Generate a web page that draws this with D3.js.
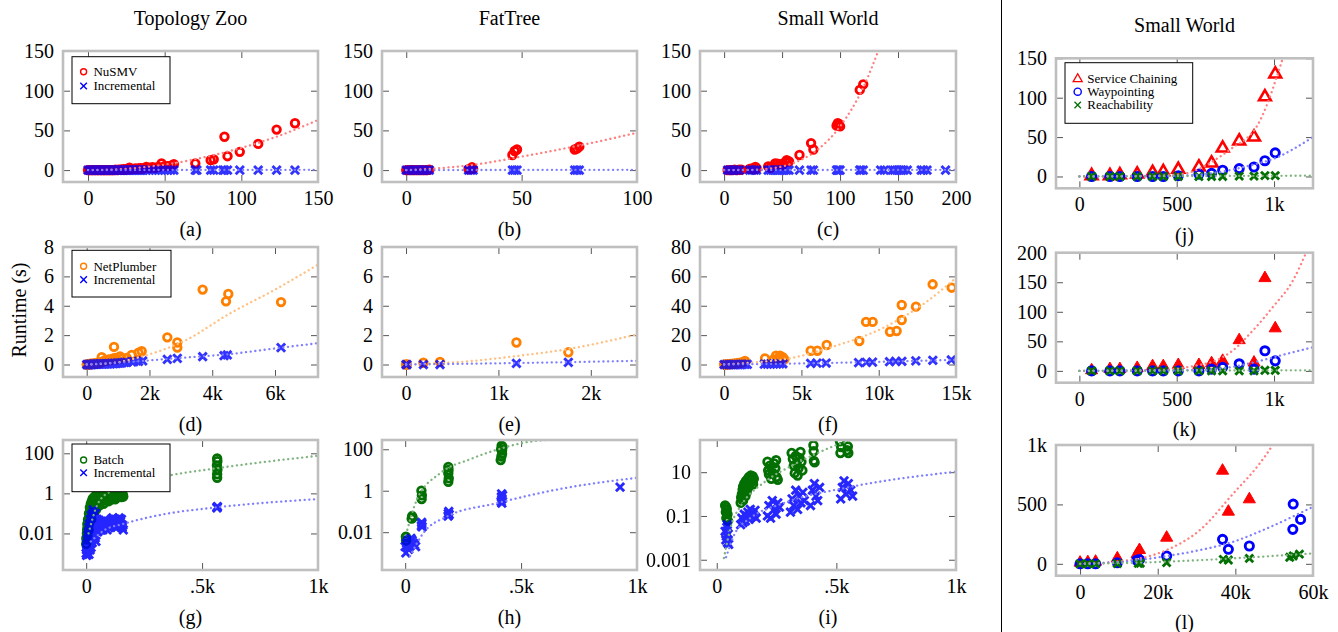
<!DOCTYPE html>
<html><head><meta charset="utf-8">
<script src="https://cdnjs.cloudflare.com/ajax/libs/d3/7.8.5/d3.min.js"></script>
<style>
body{margin:0;background:#fff;}
</style></head><body><div id="chart"></div>
<script>
// ---------- data ----------
// (a) Topology Zoo, NuSMV vs Incremental
const zooNusmv = [[0,0],[1,0],[2,0],[3,0],[4,0],[5,0],[6,0],[7,0],[8,0],[9,0],[10,0],[11,0],[12,0],[13,0],[14,0],[15,0],[16,0],[17,0],[18,0.5],[19,0],[20,0.5],[21,0.5],[22,0.5],[23,1],[24,0.5],[25,1],[26,1],[27,3],[28,1],[29,1.5],[30,1.5],[31,2],[32,1.5],[33,2],[34,2.5],[35,2],[36,2],[38,4],[40,3],[42,3.5],[44,3],[46,4],[48,8.5],[50,5],[52,5],[54,5.5],[56,7.5],[70,8.5],[80,12.5],[82,13.5],[89,42],[91,17.5],[99,23],[111,33],[123,51],[135,59]];
const zooIncrA = [[0,0],[1,0],[2,0],[3,0],[4,0],[5,0],[6,0],[7,0],[8,0],[9,0],[10,0],[11,0],[12,0],[13,0],[14,0],[15,0],[16,0],[17,0],[18,0],[19,0],[20,0],[21,0],[22,0],[23,0],[24,0],[25,0],[26,0],[27,0],[28,0],[29,0],[30,0],[31,0],[32,0],[33,0],[34,0],[35,0],[36,0],[38,0],[40,0],[42,0],[44,0],[46,0],[48,0],[50,0],[52,0],[54,0],[56,0],[70,0],[71,0],[80,0],[82,0],[88,0],[89,0],[91,0],[99,0],[111,0],[123,0],[135,0]];
const trendZooNusmv = [[0,0],[20,1],[40,4.5],[60,10],[80,18],[100,28],[120,40],[150,63]];
const trendZooIncrA = [[0,0],[150,0.3]];

// (b) FatTree
const fatNusmv = [[0,0],[1,0],[2,0],[3,0],[4,0],[5,0],[6,0],[7,0],[8,0],[9,0],[10,0.5],[27,1],[28,2],[28.5,3.5],[29,1.5],[46,19],[47,24],[48,26],[73,26],[74,27],[75,29.5]];
const fatIncrB = [[0,0],[1,0],[2,0],[3,0],[4,0],[5,0],[6,0],[7,0],[8,0],[9,0],[10,0],[27,0],[28,0],[29,0],[46,0],[47,0],[48,0],[73,0],[74,0],[75,0]];
const trendFatNusmv = [[0,0],[10,1.5],[30,7],[50,17],[75,31],[100,47]];
const trendFatIncrB = [[0,0],[100,0.3]];

// (c) Small World
const swNusmv = [[3,0],[5,0],[7,0],[9,0.5],[11,0],[13,0.5],[15,0.5],[22,1.5],[24,2],[26,1],[27,4],[28,2],[38,4.5],[40,3],[44,8.5],[46,8],[48,7],[50,6],[51,8.5],[53,10],[54,12.5],[56,11],[65,19],[75,34],[77,26],[97,56],[98,59],[99,58],[100,55],[117,101],[120,108]];
const swIncrC = [[3,0],[5,0],[7,0],[9,0],[11,0],[13,0],[22,0],[24,0],[26,0],[28,0],[38,0],[40,0],[42,0],[44,0],[46,0],[48,0],[50,0],[52,0],[54,0],[56,0],[65,0],[75,0],[77,0],[97,0],[98,0],[99,0],[100,0],[117,0],[118,0],[120,0],[135,0],[138,0],[145,0],[147,0],[149,0],[151,0],[153,0],[155,0],[158,0],[170,0],[172,0],[175,0],[191,0]];
const trendSwNusmv = [[0,0],[20,0.2],[40,2],[60,9],[80,25],[100,55],[120,104],[135,158]];
const trendSwIncrC = [[0,0],[200,0.3]];

// (d) Topology Zoo, NetPlumber vs Incremental
const zooNetPlumber = [[0,0],[20,0],[40,0.02],[60,0.01],[80,0.03],[100,0.02],[130,0.05],[160,0.03],[200,0.06],[240,0.08],[280,0.05],[320,0.1],[360,0.12],[400,0.08],[450,0.15],[478,0.5],[520,0.2],[580,0.3],[640,0.25],[700,0.35],[760,0.3],[820,0.4],[870,1.2],[900,0.45],[960,0.35],[1061,0.55],[1120,0.4],[1275,0.45],[1434,0.65],[1650,0.8],[1753,0.9],[2569,1.85],[2888,1.5],[2888,1.15],[3695,5.1],[4439,4.3],[4512,4.8],[6192,4.25]];
const zooIncrD = [[0,0],[30,0],[60,0],[90,0],[120,0.01],[150,0],[180,0.01],[210,0.02],[240,0.01],[270,0.02],[300,0.02],[350,0.03],[400,0.02],[450,0.04],[500,0.03],[550,0.05],[600,0.04],[650,0.05],[700,0.06],[750,0.05],[800,0.07],[850,0.06],[900,0.08],[950,0.07],[1000,0.09],[1061,0.1],[1120,0.11],[1200,0.15],[1275,0.14],[1434,0.18],[1500,0.2],[1650,0.21],[1785,0.24],[2569,0.35],[2888,0.42],[3695,0.53],[4376,0.6],[4481,0.65],[6192,1.15]];
const trendZooNp = [[0,0],[1000,0.15],[1600,0.45],[3200,1.7],[4500,3.4],[6000,5.1],[7370,6.8]];
const trendZooIncrD = [[0,0],[1500,0.2],[3000,0.45],[4500,0.7],[6200,1.15],[7370,1.45]];

// (e) FatTree
const fatNetPlumber = [[0,0],[10,0],[188,0.12],[368,0.18],[1195,1.5],[1757,0.83]];
const fatIncrE = [[0,0],[10,0],[188,0],[368,0],[1195,0.08],[1757,0.15]];
const trendFatNp = [[0,0],[600,0.18],[1200,0.58],[1750,1.05],[2500,2.05]];
const trendFatIncrE = [[0,0],[1200,0.1],[2500,0.25]];

// (f) Small World
const swNetPlumber = [[0,0],[100,0],[200,0.1],[300,0.2],[400,0.3],[500,0.4],[600,0.5],[700,0.6],[800,0.8],[900,1],[1000,1],[1100,1.3],[1200,1.5],[1350,2.5],[2646,4.2],[3200,3.5],[3357,6],[3500,4.2],[3616,6],[3790,5],[3900,3.5],[5600,9.4],[6030,9.4],[6636,13.3],[8745,16],[9180,29],[9610,29],[10730,22.3],[11160,22.8],[11490,40.5],[11490,30.3],[12410,39.4],[13490,54.6],[14720,52.3]];
const swIncrF = [[0,0],[150,0],[300,0],[450,0],[600,0],[750,0],[900,0],[1050,0],[1200,0.1],[1350,0.1],[1500,0.1],[2600,0.2],[2800,0.3],[3000,0.3],[3200,0.4],[3400,0.4],[3600,0.5],[3800,0.5],[5600,0.8],[6000,0.9],[6600,1.0],[8700,1.3],[9200,1.5],[9600,1.6],[10700,1.9],[11100,2.1],[11500,2.2],[12400,2.5],[13500,2.9],[14700,3.1]];
const trendSwNp = [[0,0],[1700,1.2],[4300,4.3],[7000,12],[10300,25],[13000,42],[15000,59]];
const trendSwIncrF = [[0,0],[5000,0.7],[10000,1.8],[15000,3.2]];

// (g) Topology Zoo, Batch vs Incremental (log y)
const zooBatch = [[0,0.003],[1,0.006],[2,0.005],[3,0.01],[4,0.015],[5,0.008],[5,0.03],[6,0.02],[7,0.012],[8,0.015],[8,0.05],[9,0.025],[10,0.04],[11,0.015],[12,0.03],[12,0.1],[14,0.06],[15,0.1],[16,0.2],[18,0.08],[20,0.15],[20,0.3],[22,0.05],[24,0.4],[25,0.25],[28,0.12],[28,0.55],[30,0.4],[32,0.2],[33,0.35],[35,0.5],[37,0.7],[38,0.3],[40,0.6],[42,0.15],[43,0.45],[45,0.7],[47,0.9],[48,0.35],[50,0.55],[52,0.4],[55,0.8],[57,0.65],[58,0.25],[60,0.6],[62,0.9],[65,0.45],[67,0.6],[70,0.75],[72,0.45],[75,0.3],[77,0.7],[80,0.9],[82,0.6],[85,0.5],[87,0.85],[90,0.7],[92,0.55],[95,0.4],[97,0.7],[100,0.85],[102,0.45],[105,0.6],[108,0.75],[110,1.2],[112,0.55],[115,0.7],[118,0.65],[120,0.9],[122,0.8],[125,0.5],[128,0.65],[130,0.8],[132,0.95],[135,1.0],[138,0.8],[140,0.65],[142,0.7],[145,0.9],[148,0.85],[150,0.75],[152,0.65],[155,0.8],[158,0.85],[160,0.7],[565,6],[565,9],[566,15],[564,25],[566,40],[565,55]];
const zooIncrG = [[0,0.001],[1,0.002],[2,0.0015],[2,0.0008],[3,0.003],[4,0.001],[4,0.0025],[5,0.005],[6,0.002],[6,0.0012],[7,0.008],[8,0.003],[8,0.0018],[9,0.012],[10,0.0015],[10,0.003],[11,0.02],[12,0.004],[12,0.0009],[13,0.006],[14,0.03],[14,0.0025],[15,0.002],[16,0.01],[17,0.0015],[18,0.05],[19,0.003],[20,0.015],[21,0.002],[22,0.08],[23,0.012],[24,0.005],[25,0.025],[26,0.0035],[27,0.06],[28,0.1],[29,0.008],[30,0.15],[31,0.1],[32,0.04],[33,0.02],[34,0.008],[35,0.012],[36,0.06],[37,0.03],[38,0.02],[39,0.006],[40,0.1],[41,0.05],[42,0.004],[44,0.015],[45,0.03],[47,0.02],[48,0.05],[50,0.012],[52,0.03],[55,0.02],[58,0.015],[60,0.035],[62,0.02],[65,0.015],[68,0.04],[70,0.025],[72,0.015],[75,0.04],[78,0.03],[80,0.02],[83,0.045],[85,0.03],[88,0.025],[90,0.015],[93,0.04],[95,0.025],[98,0.02],[100,0.04],[105,0.025],[108,0.05],[110,0.03],[113,0.035],[115,0.06],[118,0.025],[120,0.05],[122,0.04],[125,0.02],[128,0.05],[130,0.035],[133,0.02],[137,0.04],[140,0.025],[142,0.06],[145,0.05],[148,0.04],[150,0.03],[152,0.05],[155,0.02],[158,0.025],[160,0.015],[565,0.2],[566,0.22],[564,0.19]];
const trendZooBatch = [[10,0.01],[50,0.3],[103,1.2],[333,6.8],[565,18],[1000,75]];
const trendZooIncrG = [[20,0.004],[80,0.015],[160,0.03],[333,0.09],[563,0.2],[1000,0.52]];

// (h) FatTree
const fatBatch = [[3,0.006],[4,0.004],[28,0.045],[30,0.06],[32,0.05],[70,1.0],[71,0.4],[72,0.6],[186,14],[186,7],[187,10],[186,2.7],[188,4],[412,30],[414,100],[415,45],[416,150],[418,90],[420,130],[418,60]];
const fatIncrH = [[0,0.002],[3,0.001],[6,0.003],[9,0.002],[12,0.004],[15,0.0015],[20,0.003],[25,0.005],[30,0.004],[35,0.003],[40,0.0025],[45,0.002],[70,0.02],[71,0.03],[72,0.025],[73,0.018],[185,0.06],[186,0.08],[188,0.1],[190,0.07],[414,0.3],[415,0.5],[416,0.7],[418,0.4],[420,0.6],[417,0.25],[927,1.5]];
const trendFatBatch = [[9,0.013],[50,0.36],[150,6.9],[280,33],[416,111],[538,232],[720,320]];
const trendFatIncrH = [[21,0.0007],[78,0.009],[179,0.056],[395,0.25],[682,1.3],[1000,4.2]];

// (i) Small World
const swBatch = [[35,0.3],[38,0.15],[40,0.08],[42,0.2],[45,0.12],[47,0.06],[40,0.25],[100,0.4],[102,0.7],[105,1],[108,1.6],[110,2.2],[112,0.9],[115,3],[118,1.5],[120,2.5],[122,4],[125,1.2],[128,3.5],[130,5],[132,2],[135,6],[138,3],[140,4.5],[142,7],[145,5.5],[148,3.8],[150,6.5],[152,2.8],[155,5],[110,0.5],[120,0.8],[212,30],[215,12],[218,8],[222,20],[228,5],[235,9],[240,25],[245,15],[250,6],[255,4.5],[248,35],[313,75],[318,40],[322,20],[326,9],[330,55],[334,25],[338,7],[342,15],[346,45],[350,85],[354,30],[358,12],[404,170],[405,90],[406,33],[409,28],[515,260],[517,75],[520,140],[545,100],[548,150],[550,75]];
const swIncrI = [[35,0.02],[38,0.008],[40,0.012],[42,0.03],[45,0.006],[48,0.015],[50,0.005],[44,0.04],[100,0.04],[105,0.08],[110,0.05],[115,0.12],[120,0.06],[125,0.1],[130,0.15],[135,0.07],[140,0.2],[145,0.09],[150,0.13],[155,0.1],[160,0.18],[165,0.08],[212,0.1],[218,0.3],[225,0.08],[232,0.5],[240,0.2],[248,0.12],[255,0.4],[262,0.25],[308,0.15],[315,0.6],[322,0.3],[330,1.5],[338,0.2],[345,0.8],[352,0.4],[360,1.2],[366,0.5],[392,0.3],[400,1.5],[408,3],[415,0.8],[422,0.5],[430,2],[518,0.6],[525,2],[532,4],[540,1],[550,3],[560,1.5],[568,0.8]];
const trendSwBatch = [[30,0.0012],[63,0.046],[100,0.28],[202,3.7],[306,18],[418,72],[501,174],[580,320]];
const trendSwIncrI = [[39,0.0013],[76,0.016],[139,0.078],[278,0.38],[557,2.1],[1000,10.5]];

// (j),(k) Small World, three policies
const policyX = [63,157,208,297,376,431,508,614,679,736,821,897,953,1006];
const chainJ = [1,1,2,3,5,6,9,12,17,36,45,50,101,130];
const waypointJ = [0,0,0,0,0,0,1,3,4,8,10,12,20,30];
const reachJ = [0,0,0,0,0,0,0,0,0,0,0.5,0.5,1,1];
const trendChainJ = [[0,0],[300,0.5],[450,1.5],[551,4],[600,8],[690,20],[790,37],[870,51],[910,63],[945,80],[979,101],[1013,126],[1044,150],[1060,165]];
const trendWaypointJ = [[0,0],[400,0.5],[600,2],[705,5],[876,14],[1013,24],[1100,35],[1200,50]];
const trendReachJ = [[0,0],[1200,1]];

const chainK = [1,3,3,5,8,8,10,10,13,17,52,14,157,72];
const waypointK = [0,0,0,0,0,0,0,0,3,6,12,3,34,17];
const reachK = [0,0,0,0,0,0,0,0,0,0,0,0,1,1];
const trendChainK = [[0,0],[400,1],[508,4],[600,9],[688,16],[790,35],[893,69],[996,109],[1099,154],[1165,200],[1200,225]];
const trendWaypointK = [[0,0],[600,1.5],[790,7],[927,17],[1067,29],[1200,40]];
const trendReachK = [[0,0],[1200,1]];

// (l)
const chainL = [[0,10],[2000,14],[4000,18],[9600,46],[14700,82],[15300,116],[22300,220],[36700,784],[38200,439],[43600,543]];
const waypointL = [[0,0],[2000,0],[4000,0],[9600,9],[14600,30],[15300,35],[22300,66],[36700,206],[38200,122],[43600,150],[54800,290],[54900,503],[56800,374]];
const reachL = [[0,0],[2000,0],[4000,0],[9600,2],[15000,4],[15500,5],[22300,10],[36900,38],[38200,32],[43600,46],[54000,55],[54900,66],[56500,82]];
const trendChainL = [[0,0],[10000,20],[16000,50],[22300,116],[30900,285],[39500,593],[46300,846],[49600,1000],[51000,1080]];
const trendWaypointL = [[0,0],[10000,15],[22300,65],[30900,116],[39500,186],[47200,285],[60000,480]];
const trendReachL = [[0,0],[10000,5],[22300,18],[39500,46],[60000,88]];

// ticks
const ticks150 = [0,50,100,150], labels150 = ["0","50","100","150"];
const ticks100 = [0,50,100], labels100 = ["0","50","100"];
const ticks200 = [0,50,100,150,200], labels200 = ["0","50","100","150","200"];
const ticks8 = [0,2,4,6,8], labels8 = ["0","2","4","6","8"];
const ticks80 = [0,20,40,60,80], labels80 = ["0","20","40","60","80"];
const ticksZooNp = [0,2000,4000,6000], labelsZooNp = ["0","2k","4k","6k"];
const ticksFatNp = [0,1000,2000], labelsFatNp = ["0","1k","2k"];
const ticksSwNp = [0,5000,10000,15000], labelsSwNp = ["0","5k","10k","15k"];
const ticks1k = [0,500,1000], labels1k = ["0",".5k","1k"];
const ticksLogA = [0.01,1,100], labelsLogA = ["0.01","1","100"];
const ticksLogB = [0.001,0.1,10], labelsLogB = ["0.001","0.1","10"];
const ticksPolicy = [0,500,1000], labelsPolicy = ["0","500","1k"];
const ticksL = [0,20000,40000,60000], labelsL = ["0","20k","40k","60k"];
const ticksLy = [0,500,1000], labelsLy = ["0","500","1k"];

// ---------- drawing ----------
const SERIF = "'Liberation Serif','Times New Roman',serif";
const RED = "#ff0000", BLUE = "#0000ff", ORANGE = "#ff8000", GREEN = "#047004";
const RED_T = "#ff7f7f", BLUE_T = "#7f7fff", ORANGE_T = "#ffbf80", GREEN_T = "#7fb37f";

const svg = d3.select("#chart").append("svg").attr("width", 1338).attr("height", 632);

const cols = [[63,318],[382,637],[700,956],[1056,1313]];
const rows = [[51,182],[247,377],[440,570]];
const rowsR = [[58.3,188.3],[252.7,382.7],[445,575.7]];

const circ = c => ({type:"circle", color:c, size:3.8, sw:2.8});
const cross = (c, op) => ({type:"cross", color:c, size:4.1, sw:2.9, op:op});
const triO = {type:"tri", color:RED, size:6.8, sw:2.6};
const triF = {type:"triF", color:RED, size:7, sw:1};
const circB = {type:"circle", color:BLUE, size:4.1, sw:2.9};
const crossG = {type:"cross", color:GREEN, size:3.9, sw:2.9};

const panels = [
  {c:0, r:0, xd:[-16.3,150], yd:[-15,150], xt:ticks150, xl:labels150, yt:ticks150, yl:labels150,
   series:[[zooNusmv, circ(RED)],[zooIncrA, cross(BLUE,0.8)]], trends:[[trendZooNusmv,RED_T],[trendZooIncrA,BLUE_T]],
   legend:{dx:9, dy:5.7, w:98, h:47, rows:[15,29.3], items:[[circ(RED),"NuSMV"],[cross(BLUE),"Incremental"]]},
   title:"Topology Zoo", cap:"(a)"},
  {c:1, r:0, xd:[-10.5,100], yd:[-15,150], xt:ticks100, xl:labels100, yt:ticks150, yl:labels150,
   series:[[fatNusmv, circ(RED)],[fatIncrB, cross(BLUE,0.8)]], trends:[[trendFatNusmv,RED_T],[trendFatIncrB,BLUE_T]],
   title:"FatTree", cap:"(b)"},
  {c:2, r:0, xd:[-20.8,200], yd:[-15,150], xt:ticks200, xl:labels200, yt:ticks150, yl:labels150,
   series:[[swNusmv, circ(RED)],[swIncrC, cross(BLUE,0.8)]], trends:[[trendSwNusmv,RED_T],[trendSwIncrC,BLUE_T]],
   title:"Small World", cap:"(c)"},
  {c:0, r:1, xd:[-755,7370], yd:[-0.85,8], xt:ticksZooNp, xl:labelsZooNp, yt:ticks8, yl:labels8,
   series:[[zooNetPlumber, circ(ORANGE)],[zooIncrD, cross(BLUE,0.8)]], trends:[[trendZooNp,ORANGE_T],[trendZooIncrD,BLUE_T]],
   legend:{dx:9, dy:3.3, w:99, h:46.7, rows:[16,29.3], items:[[circ(ORANGE),"NetPlumber"],[cross(BLUE),"Incremental"]]},
   cap:"(d)"},
  {c:1, r:1, xd:[-260,2500], yd:[-0.85,8], xt:ticksFatNp, xl:labelsFatNp, yt:ticks8, yl:labels8,
   series:[[fatNetPlumber, circ(ORANGE)],[fatIncrE, cross(BLUE,0.8)]], trends:[[trendFatNp,ORANGE_T],[trendFatIncrE,BLUE_T]],
   cap:"(e)"},
  {c:2, r:1, xd:[-1560,15000], yd:[-8.5,80], xt:ticksSwNp, xl:labelsSwNp, yt:ticks80, yl:labels80,
   series:[[swNetPlumber, circ(ORANGE)],[swIncrF, cross(BLUE,0.8)]], trends:[[trendSwNp,ORANGE_T],[trendSwIncrF,BLUE_T]],
   cap:"(f)"},
  {c:0, r:2, log:true, xd:[-100,1000], yd:[1.5e-4,460], xt:ticks1k, xl:labels1k, yt:ticksLogA, yl:labelsLogA,
   series:[[zooBatch, circ(GREEN)],[zooIncrG, cross(BLUE,0.85)]], trends:[[trendZooBatch,GREEN_T],[trendZooIncrG,BLUE_T]],
   legend:{dx:9, dy:4, w:98, h:47.7, rows:[16,28.7], items:[[circ(GREEN),"Batch"],[cross(BLUE),"Incremental"]]},
   cap:"(g)"},
  {c:1, r:2, log:true, xd:[-100,1000], yd:[1.5e-4,280], xt:ticks1k, xl:labels1k, yt:ticksLogA, yl:labelsLogA,
   series:[[fatBatch, circ(GREEN)],[fatIncrH, cross(BLUE,0.85)]], trends:[[trendFatBatch,GREEN_T],[trendFatIncrH,BLUE_T]],
   cap:"(h)"},
  {c:2, r:2, log:true, xd:[-70,1000], yd:[3.4e-4,295], xt:ticks1k, xl:labels1k, yt:ticksLogB, yl:labelsLogB,
   series:[[swBatch, circ(GREEN)],[swIncrI, cross(BLUE,0.85)]], trends:[[trendSwBatch,GREEN_T],[trendSwIncrI,BLUE_T]],
   cap:"(i)"},
  {c:3, r:0, right:true, xd:[-120,1200], yd:[-15,150], xt:ticksPolicy, xl:labelsPolicy, yt:ticks150, yl:labels150,
   series:[[d3.zip(policyX,chainJ), triO],[d3.zip(policyX,waypointJ), circB],[d3.zip(policyX,reachJ), crossG]],
   trends:[[trendChainJ,RED_T],[trendWaypointJ,BLUE_T],[trendReachJ,GREEN_T]],
   legend:{dx:9, dy:4.4, w:127.7, h:60.6, rows:[16.3,29,42.3], mx:12.7, tx:22.3,
     items:[[{type:"tri",color:RED,size:5.2,sw:1.3},"Service Chaining"],[{type:"circle",color:BLUE,size:3.6,sw:1.4},"Waypointing"],[{type:"cross",color:GREEN,size:3.2,sw:1.3},"Reachability"]]},
   title:"Small World", cap:"(j)"},
  {c:3, r:1, right:true, xd:[-120,1200], yd:[-20,200], xt:ticksPolicy, xl:labelsPolicy, yt:ticks200, yl:labels200,
   series:[[d3.zip(policyX,chainK), triF],[d3.zip(policyX,waypointK), circB],[d3.zip(policyX,reachK), crossG]],
   trends:[[trendChainK,RED_T],[trendWaypointK,BLUE_T],[trendReachK,GREEN_T]],
   cap:"(k)"},
  {c:3, r:2, right:true, xd:[-6200,60000], yd:[-100,1000], xt:ticksL, xl:labelsL, yt:ticksLy, yl:labelsLy,
   series:[[chainL, triF],[waypointL, circB],[reachL, crossG]],
   trends:[[trendChainL,RED_T],[trendWaypointL,BLUE_T],[trendReachL,GREEN_T]],
   cap:"(l)"}
];

function markPath(type, s) {
  if (type === "cross") return `M${-s},${-s}L${s},${s}M${-s},${s}L${s},${-s}`;
  return `M0,${-s}L${s*0.866},${s*0.5}L${-s*0.866},${s*0.5}Z`;
}

function drawMark(sel, m) {
  if (m.type === "circle") {
    return sel.append("circle").attr("r", m.size).attr("fill", "none")
      .attr("stroke", m.color).attr("stroke-width", m.sw);
  }
  return sel.append("path").attr("d", markPath(m.type, m.size))
    .attr("fill", m.type === "triF" ? m.color : "none")
    .attr("stroke", m.color).attr("stroke-width", m.sw)
    .attr("stroke-linejoin", "miter");
}

function label(x, yc, str, size, anchor) {
  return svg.append("text").attr("x", x).attr("y", yc + size * 0.33)
    .attr("text-anchor", anchor || "middle").attr("font-family", SERIF)
    .attr("font-size", size).attr("fill", "#000").text(str);
}

panels.forEach((p, pi) => {
  const [left, right] = cols[p.c];
  const [top, bottom] = (p.right ? rowsR : rows)[p.r];
  const w = right - left, h = bottom - top;
  const g = svg.append("g").attr("transform", `translate(${left},${top})`);

  const x = d3.scaleLinear().domain(p.xd).range([0, w]);
  const y = (p.log ? d3.scaleLog() : d3.scaleLinear()).domain(p.yd).range([h, 0]);

  g.append("clipPath").attr("id", "clip" + pi).append("rect").attr("width", w).attr("height", h);

  // ticks on all four sides, pointing inwards
  const ax = g.append("g");
  ax.append("g").attr("transform", `translate(0,${h})`)
    .call(d3.axisBottom(x).tickValues(p.xt).tickFormat((d, i) => p.xl[i]).tickSize(-7).tickPadding(9));
  ax.append("g").call(d3.axisTop(x).tickValues(p.xt).tickFormat("").tickSize(-7));
  ax.append("g").call(d3.axisLeft(y).tickValues(p.yt).tickFormat((d, i) => p.yl[i]).tickSize(-7).tickPadding(9));
  ax.append("g").attr("transform", `translate(${w},0)`)
    .call(d3.axisRight(y).tickValues(p.yt).tickFormat("").tickSize(-7));
  ax.selectAll(".domain").remove();
  ax.selectAll("g").attr("font-family", SERIF).attr("font-size", 20);
  ax.selectAll(".tick line").attr("stroke", "#555").attr("stroke-width", 1);
  ax.selectAll(".tick text").attr("fill", "#000");

  const plot = g.append("g").attr("clip-path", `url(#clip${pi})`);

  p.series.forEach(([data, m]) => {
    const s = plot.append("g").attr("opacity", m.op || 1);
    data.forEach(d => {
      drawMark(s.append("g").attr("transform", `translate(${x(d[0])},${y(d[1])})`), m);
    });
  });

  const line = d3.line().x(d => x(d[0])).y(d => y(d[1])).curve(d3.curveMonotoneX);
  p.trends.forEach(([data, col]) => {
    plot.append("path").attr("d", line(data)).attr("fill", "none")
      .attr("stroke", col).attr("stroke-width", 2.3)
      .attr("stroke-linecap", "round").attr("stroke-dasharray", "0.1 4.6");
  });

  g.append("rect").attr("width", w).attr("height", h).attr("fill", "none")
    .attr("stroke", "#bfbfbf").attr("stroke-width", 2.6);

  if (p.legend) {
    const L = p.legend;
    const lg = g.append("g").attr("transform", `translate(${L.dx},${L.dy})`);
    lg.append("rect").attr("width", L.w).attr("height", L.h).attr("fill", "#fff")
      .attr("stroke", "#000").attr("stroke-width", 1);
    L.items.forEach(([m, txt], i) => {
      const mm = Object.assign({}, m);
      if (!p.right) { mm.size = m.type === "circle" ? 3 : 3.3; mm.sw = 1.4; }
      drawMark(lg.append("g").attr("transform", `translate(${L.mx || 11.6},${L.rows[i]})`), mm);
      lg.append("text").attr("x", L.tx || 21.4).attr("y", L.rows[i] + 4.4)
        .attr("font-family", SERIF).attr("font-size", 13).attr("fill", "#000").text(txt);
    });
  }

  if (p.title) label((left + right) / 2, top - 33, p.title, 20);
  label((left + right) / 2, bottom + 47, p.cap, 20);
});

// y axis label for the left block
svg.append("text").attr("transform", "translate(26,310) rotate(-90)")
  .attr("text-anchor", "middle").attr("font-family", SERIF).attr("font-size", 20)
  .attr("fill", "#000").text("Runtime (s)");

// separator between the two blocks
svg.append("line").attr("x1", 1001.5).attr("x2", 1001.5).attr("y1", 0).attr("y2", 632)
  .attr("stroke", "#000").attr("stroke-width", 1);
</script>
</body></html>
